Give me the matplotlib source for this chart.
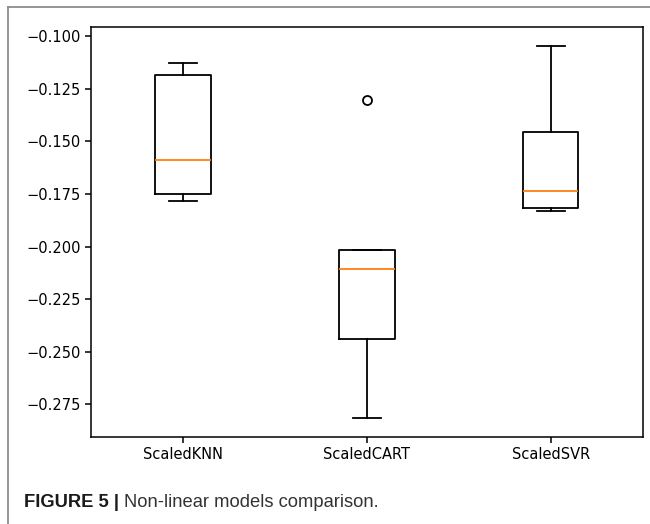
import matplotlib
matplotlib.use("Agg")
import matplotlib.pyplot as plt
from matplotlib.lines import Line2D

# cross-validation scores (neg. MSE) per model
names = ['ScaledKNN', 'ScaledCART', 'ScaledSVR']
knn = [-0.1786, -0.1751, -0.1589, -0.1185, -0.1128]
cart = [-0.2816, -0.2440, -0.2108, -0.2015, -0.1305]
svr = [-0.1829, -0.1819, -0.1735, -0.1458, -0.1047]
results = [knn, cart, svr]

fig = plt.figure(figsize=(6.5, 5.24), dpi=100)
ax = fig.add_axes([0.140, 0.166, 0.849, 0.782])
lw = 1.3
ax.boxplot(results, tick_labels=names,
           boxprops=dict(linewidth=lw), whiskerprops=dict(linewidth=lw),
           capprops=dict(linewidth=lw), medianprops=dict(linewidth=lw, color='#ff7f0e'),
           flierprops=dict(markeredgewidth=lw, markersize=6.5))
ax.tick_params(labelsize=10.5, length=4.5, pad=3, width=1.1)
for s in ax.spines.values():
    s.set_linewidth(1.1)

# caption frame (top and left border)
fig.add_artist(Line2D([8/650, 1.0], [1 - 7/524, 1 - 7/524], color='#8c8c8c', lw=1.3))
fig.add_artist(Line2D([8/650, 8/650], [0.0, 1 - 7/524], color='#8c8c8c', lw=1.3))

# caption
t1 = fig.text(24/650, 1 - 507/524, 'FIGURE 5 | ', fontsize=13.2, fontweight='bold',
              family='Liberation Sans', color='#1a1a1a')
fig.canvas.draw()
bb = t1.get_window_extent()
fig.text(bb.x1 / fig.bbox.width, 1 - 507/524, 'Non-linear models comparison.', fontsize=13.2,
         family='Liberation Sans', color='#333333')

fig.savefig('out.png', dpi=100)
